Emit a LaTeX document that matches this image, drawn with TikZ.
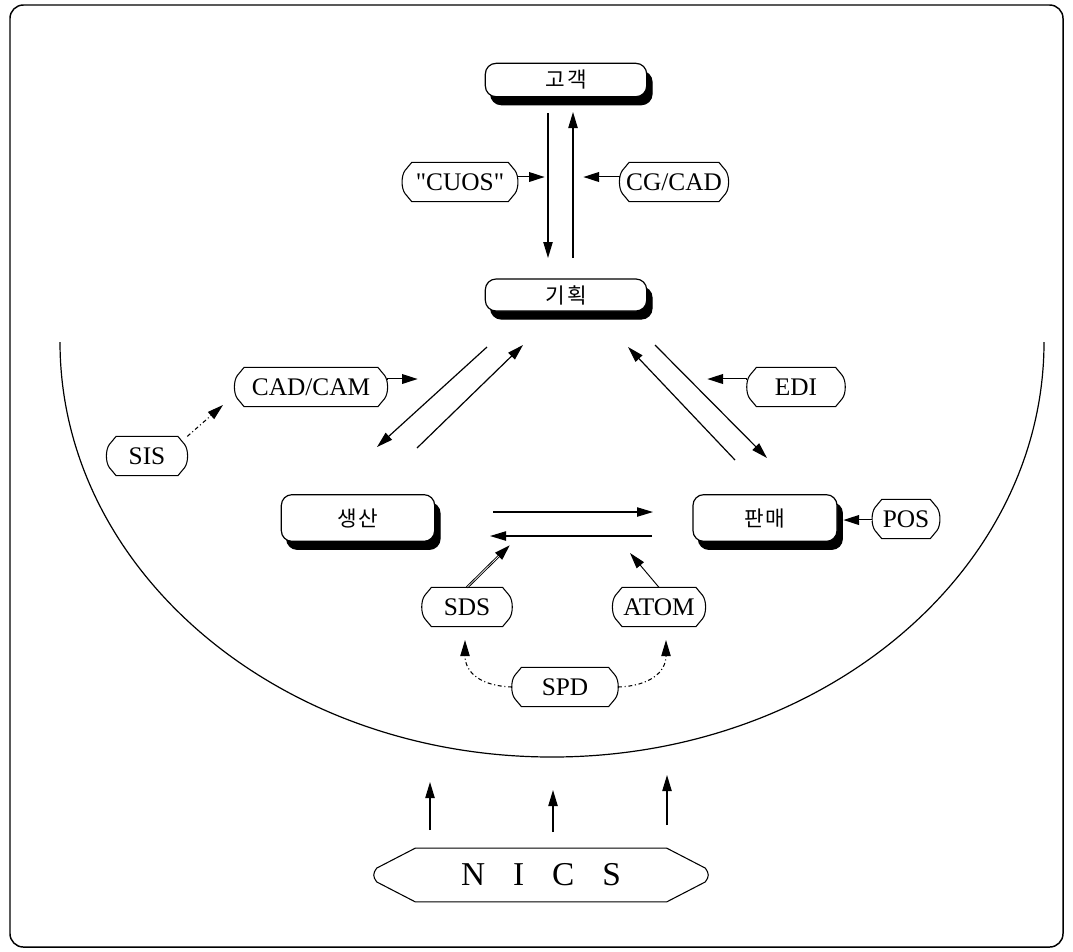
\documentclass[tikz,border=0pt]{standalone}
\usepackage{fontspec}
\setmainfont{Liberation Serif}[Ligatures=TeXOff]
\newfontfamily\kr{Noto Sans CJK KR}
\usetikzlibrary{arrows.meta,shadows,calc}
\newcommand\hexo[3]{%
\draw[line width=0.8pt] ([xshift=-#2]#1.north east) -- ([xshift=-2pt,yshift=-#3]#1.north east)
 .. controls ([xshift=1pt,yshift={-(#3+4pt)}]#1.north east) and ([xshift=1pt,yshift={#3+4pt}]#1.south east) ..
 ([xshift=-2pt,yshift=#3]#1.south east) -- ([xshift=-#2]#1.south east) -- ([xshift=#2]#1.south west)
 -- ([xshift=2pt,yshift=#3]#1.south west)
 .. controls ([xshift=-1pt,yshift={#3+4pt}]#1.south west) and ([xshift=-1pt,yshift={-(#3+4pt)}]#1.north west) ..
 ([xshift=2pt,yshift=-#3]#1.north west) -- ([xshift=#2]#1.north west) -- cycle;}
\tikzset{
  mainbox/.style={draw, line width=0.9pt, fill=white, rounded corners=8pt,
    font=\kr\fontsize{16}{18}\selectfont,
    general shadow={fill=black, draw=black, shadow xshift=4pt, shadow yshift=-6pt}},
  lbl/.style={inner sep=0pt, minimum height=29pt, font=\fontsize{19}{22}\selectfont},
  arr/.style={line width=0.9pt, -{Triangle[length=12pt,width=7pt]}},
  dblarr/.style={line width=1.9pt, -{Triangle[length=12pt,width=7pt]},
    postaction={draw=white, line width=0.5pt, arrows=-, shorten >=12pt, shorten <=0.6pt}},
  dasharr/.style={line width=0.8pt, dashdotted, -{Triangle[length=12pt,width=7pt]}},
}
\begin{document}
\begin{tikzpicture}[x=0.75pt,y=-0.75pt]
\useasboundingbox (0,0) rectangle (1073,951);
\draw[line width=1.1pt, rounded corners=10pt] (10,5) rectangle (1063,947);

% big arc
\draw[line width=0.9pt] (60,342) arc[start angle=180, end angle=0, x radius=492, y radius=415];

% main boxes
\node[mainbox, minimum width=121pt, minimum height=25pt] (gogaek) at (566,80) {고\hspace{2pt}객};
\node[mainbox, minimum width=121pt, minimum height=24pt] (gihoek) at (566,295) {기\hspace{2pt}획};
\node[mainbox, minimum width=115pt, minimum height=35pt] (saengsan) at (358,518) {생\hspace{1pt}산};
\node[mainbox, minimum width=108pt, minimum height=35pt] (panmae) at (765,518) {판\hspace{1pt}매};

% label boxes
\node[lbl, minimum width=86pt] (cuos) at (460,182) {"CUOS"};
\node[lbl, minimum width=81pt] (cgcad) at (674,182) {CG/CAD};
\node[lbl, minimum width=114pt] (cadcam) at (311,387) {CAD/CAM};
\node[lbl, minimum width=73pt] (edi) at (796,387) {EDI};
\node[lbl, minimum width=60pt] (sis) at (147,456) {SIS};
\node[lbl, minimum width=50pt] (pos) at (906,519) {POS};
\node[lbl, minimum width=67pt] (sds) at (467,607) {SDS};
\node[lbl, minimum width=69pt] (atom) at (659,607) {ATOM};
\node[lbl, minimum width=79pt] (spd) at (565,687) {SPD};
\node[inner sep=0pt, minimum width=250pt, minimum height=40pt, font=\fontsize{25}{28}\selectfont] (nics) at (541,875) {N\hspace{21pt}I\hspace{21pt}C\hspace{21pt}S};
\foreach \n in {cuos,cgcad,cadcam,edi,sis,pos,sds,atom,spd}{\hexo{\n}{7pt}{6pt}}
\hexo{nics}{31pt}{15pt}

% coordinates
\coordinate (v1a) at (548,113); \coordinate (v1b) at (548,258);
\coordinate (v2a) at (573,258); \coordinate (v2b) at (573,112);
\coordinate (cuosT) at (545,177);
\coordinate (cgT) at (583,177);
\coordinate (ccT) at (418,379);
\coordinate (ediT) at (707,379);
\coordinate (posT) at (843,520);
\coordinate (sisT) at (223,405);
\coordinate (sdsT) at (510,545);
\coordinate (atomT) at (630,553);
\coordinate (sdsB) at (465,640);
\coordinate (atomB) at (666,640);
\coordinate (d1a) at (487,347); \coordinate (d1b) at (377,447);
\coordinate (d2a) at (417,448); \coordinate (d2b) at (523,345);
\coordinate (d3a) at (735,460); \coordinate (d3b) at (628,347);
\coordinate (d4a) at (655,345); \coordinate (d4b) at (767,458);
\coordinate (h1a) at (493,512); \coordinate (h1b) at (653,512);
\coordinate (h2a) at (652,536); \coordinate (h2b) at (490,536);
\coordinate (n1a) at (430,830); \coordinate (n1b) at (430,782);
\coordinate (n2a) at (553,832); \coordinate (n2b) at (553,790);
\coordinate (n3a) at (667,825); \coordinate (n3b) at (667,775);

% connectors
\draw[arr] (v1a) -- (v1b);
\draw[arr] (v2a) -- (v2b);
\draw[arr] (d1a) -- (d1b);
\draw[arr] (d2a) -- (d2b);
\draw[arr] (d3a) -- (d3b);
\draw[arr] (d4a) -- (d4b);
\draw[arr] (h1a) -- (h1b);
\draw[arr] (h2a) -- (h2b);
\draw[arr] (n1a) -- (n1b);
\draw[arr] (n2a) -- (n2b);
\draw[arr] (n3a) -- (n3b);
\draw[dblarr] (cuos.east|-cuosT) -- (cuosT);
\draw[dblarr] (cgcad.west|-cgT) -- (cgT);
\draw[dblarr] (cadcam.east|-ccT) -- (ccT);
\draw[dblarr] (edi.west|-ediT) -- (ediT);
\draw[dblarr] (pos.west|-posT) -- (posT);
\draw[dblarr] (sds.north) -- (sdsT);
\draw[arr, line width=0.7pt] (atom.north) -- (atomT);
\draw[dasharr] (sis.north east) -- (sisT);
\draw[dasharr] (spd.west) .. controls (480,686) and (465,672) .. (sdsB);
\draw[dasharr] (spd.east) .. controls (650,686) and (666,672) .. (atomB);
\end{tikzpicture}
\end{document}
